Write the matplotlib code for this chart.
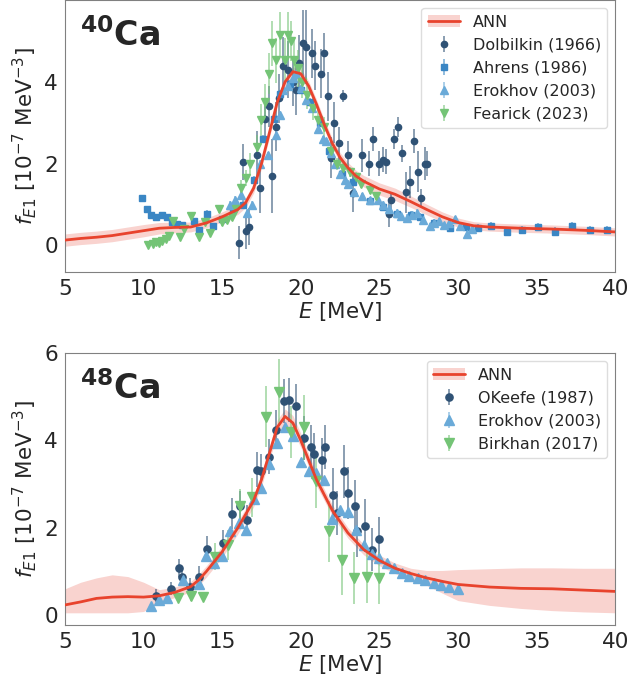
import numpy as np
import matplotlib
matplotlib.use('Agg')
import matplotlib.pyplot as plt
import seaborn as sns

sns.set_style('white')
plt.rcParams['font.family'] = ['DejaVu Sans']
plt.rcParams['axes.edgecolor'] = '#808080'
plt.rcParams['text.color'] = '#262626'
plt.rcParams['xtick.color'] = '#262626'
plt.rcParams['ytick.color'] = '#262626'

# ---------------- 40Ca ----------------
ann40_E = [5, 6, 7, 8, 9, 10, 11, 12, 13, 14, 15, 16, 16.5, 17, 17.5, 18, 18.5, 19, 19.5,
           20, 20.5, 21, 21.5, 22, 22.5, 23, 23.5, 24, 25, 26, 27, 28, 29, 30, 31, 32,
           34, 36, 38, 40]
ann40_f = [0.13, 0.17, 0.2, 0.24, 0.3, 0.36, 0.42, 0.44, 0.45, 0.55, 0.7, 0.88, 1.05, 1.4,
           2.0, 2.75, 3.5, 4.0, 4.25, 4.2, 3.9, 3.45, 2.95, 2.5, 2.15, 1.9, 1.7, 1.57, 1.38,
           1.25, 1.07, 0.88, 0.7, 0.56, 0.48, 0.45, 0.42, 0.4, 0.37, 0.33]
ann40_err = [0.15, 0.15, 0.15, 0.15, 0.15, 0.15, 0.14, 0.13, 0.12, 0.12, 0.12, 0.12, 0.12,
             0.12, 0.12, 0.12, 0.12, 0.12, 0.12, 0.12, 0.12, 0.12, 0.12, 0.12, 0.12, 0.13,
             0.14, 0.14, 0.15, 0.15, 0.14, 0.13, 0.12, 0.11, 0.1, 0.1, 0.1, 0.1, 0.1, 0.1]

dolb_E = [16.1, 16.3, 16.5, 16.7, 17.2, 17.4, 17.75, 18.0, 18.2, 18.4, 18.6, 18.9, 19.2,
          19.5, 19.7, 19.9, 20.15, 20.35, 20.7, 20.9, 21.3, 21.5, 21.75, 21.95, 22.1, 22.45,
          22.7, 23.0, 23.3, 23.9, 24.35, 24.6, 24.95, 25.2, 25.4, 25.6, 25.75, 25.95, 26.2,
          26.45, 26.7, 26.95, 27.2, 27.45, 27.65, 27.9, 28.0]
dolb_f = [0.07, 2.04, 0.35, 0.46, 2.2, 1.4, 3.1, 3.4, 1.7, 2.9, 3.6, 4.4, 4.3, 4.0, 3.8,
          4.45, 4.95, 4.85, 4.7, 4.4, 4.2, 4.7, 3.65, 2.15, 3.0, 2.5, 3.65, 2.2, 1.27, 2.2,
          2.0, 2.6, 2.0, 2.1, 2.05, 0.76, 1.1, 2.6, 2.9, 2.25, 1.3, 1.55, 2.55, 1.8, 1.17,
          2.0, 2.0]
dolb_err = [0.4, 0.45, 0.45, 0.45, 0.6, 0.6, 0.5, 0.5, 0.9, 0.6, 0.6, 0.7, 0.7, 0.6, 0.6,
            0.7, 0.8, 0.9, 0.6, 0.6, 0.6, 0.5, 0.6, 0.5, 0.5, 0.4, 0.15, 0.35, 0.45, 0.4,
            0.3, 0.3, 0.3, 0.3, 0.3, 0.3, 0.2, 0.25, 0.25, 0.2, 0.5, 0.4, 0.3, 0.5, 0.2,
            0.4, 0.3]

ahr_E = [9.9, 10.2, 10.45, 10.8, 11.15, 11.5, 11.8, 12.1, 12.45, 13.2, 13.55, 14.05, 14.4,
         15.0, 15.7, 16.3, 17.0, 17.6, 18.3, 18.7, 19.3, 20.0, 20.6, 21.2, 21.8, 22.6, 23.3,
         24.4, 25.2, 26.1, 27.0, 27.6, 28.5, 29.5, 30.5, 31.3, 32.1, 33.1, 34.1, 35.1, 36.2,
         37.25, 38.4, 39.5]
ahr_f = [1.15, 0.88, 0.74, 0.7, 0.74, 0.69, 0.57, 0.52, 0.5, 0.6, 0.38, 0.78, 0.47, 0.65,
         0.88, 1.0, 1.6, 2.6, 3.1, 3.7, 3.95, 3.8, 3.5, 3.0, 2.3, 1.75, 1.55, 1.08, 0.95,
         0.76, 0.75, 0.7, 0.55, 0.42, 0.45, 0.43, 0.47, 0.34, 0.37, 0.46, 0.34, 0.47, 0.37,
         0.37]
ahr_err = [0.08] * 15 + [0.1] * 29

ero40_E = [15.5, 15.8, 16.2, 16.6, 16.9, 17.4, 17.9, 18.4, 18.7, 18.9, 19.2, 19.5, 19.7,
           20.0, 20.35, 20.7, 21.1, 21.4, 21.6, 21.95, 22.2, 22.5, 22.8, 23.0, 23.4, 23.9,
           24.4, 24.9, 25.2, 25.6, 26.1, 26.4, 26.75, 27.1, 27.4, 27.8, 28.2, 28.5, 28.8,
           29.1, 29.4, 29.8, 30.1, 30.55, 30.9]
ero40_f = [1.0, 1.12, 1.24, 0.8, 1.0, 2.0, 2.2, 2.7, 3.2, 3.8, 3.9, 4.1, 4.2, 3.85, 3.55,
           3.35, 2.85, 2.6, 2.55, 2.25, 2.0, 1.75, 1.6, 1.5, 1.3, 1.2, 1.1, 1.1, 1.0, 0.9,
           0.8, 0.72, 0.68, 0.75, 0.8, 0.62, 0.47, 0.55, 0.6, 0.5, 0.55, 0.65, 0.47, 0.27,
           0.4]
ero40_err = [0.08] * 45

fear_E = [10.3, 10.6, 10.8, 11.0, 11.2, 11.4, 11.6, 11.9, 12.3, 12.6, 13.0, 13.5, 13.9,
          14.2, 14.8, 15.0, 15.3, 15.6, 15.9, 16.2, 16.5, 16.8, 17.2, 17.5, 17.75, 18.0,
          18.2, 18.4, 18.7, 19.0, 19.2, 19.4, 19.6, 19.8, 20.1, 20.4, 20.8, 21.1, 21.45,
          21.95, 22.3, 22.7, 23.1, 23.5, 23.8, 24.4, 24.8]
fear_f = [0.02, 0.04, 0.08, 0.06, 0.1, 0.15, 0.22, 0.59, 0.2, 0.4, 0.73, 0.2, 0.58, 0.3,
          0.9, 0.58, 0.62, 0.7, 0.9, 1.4, 1.65, 2.0, 2.4, 3.07, 3.5, 4.2, 4.95, 4.53, 5.15,
          4.53, 5.15, 5.0, 4.53, 4.33, 4.0, 3.68, 3.36, 3.07, 2.9, 2.3, 2.0, 1.9, 1.8, 1.68,
          1.5, 1.35, 1.2]
fear_err = [0.05, 0.05, 0.05, 0.05, 0.05, 0.05, 0.06, 0.06, 0.06, 0.06, 0.08, 0.08, 0.08,
            0.08, 0.1, 0.1, 0.1, 0.1, 0.12, 0.2, 0.2, 0.25, 0.3, 0.4, 0.45, 0.5, 0.55, 0.55,
            0.55, 0.55, 0.55, 0.5, 0.5, 0.45, 0.4, 0.35, 0.3, 0.3, 0.25, 0.2, 0.15, 0.15,
            0.12, 0.12, 0.1, 0.1, 0.1]

# ---------------- 48Ca ----------------
ann48_E = [5, 6, 7, 8, 9, 10, 11, 12, 13, 13.5, 14, 15, 16, 17, 17.5, 18, 18.5, 19, 19.5,
           20, 20.5, 21, 21.5, 22, 23, 24, 25, 26, 27, 28, 29, 30, 32, 34, 36, 38, 40]
ann48_f = [0.23, 0.3, 0.38, 0.41, 0.42, 0.41, 0.44, 0.52, 0.65, 0.8, 1.0, 1.45, 2.0, 2.62,
           3.1, 3.7, 4.3, 4.55, 4.4, 4.0, 3.55, 3.1, 2.75, 2.4, 1.88, 1.5, 1.25, 1.07, 0.95,
           0.85, 0.77, 0.7, 0.64, 0.61, 0.6, 0.57, 0.54]
ann48_lo = [0.05, 0.05, 0.05, 0.05, 0.05, 0.08, 0.3, 0.4, 0.53, 0.67, 0.87, 1.32, 1.86,
            2.48, 2.95, 3.55, 4.13, 4.38, 4.23, 3.84, 3.4, 2.96, 2.62, 2.27, 1.76, 1.38,
            1.13, 0.95, 0.83, 0.68, 0.5, 0.33, 0.22, 0.15, 0.1, 0.07, 0.05]
ann48_hi = [0.6, 0.75, 0.85, 0.92, 0.88, 0.75, 0.58, 0.64, 0.77, 0.93, 1.13, 1.58, 2.14,
            2.76, 3.25, 3.85, 4.47, 4.72, 4.57, 4.16, 3.7, 3.24, 2.88, 2.53, 2.0, 1.62,
            1.37, 1.19, 1.07, 1.02, 1.02, 1.04, 1.06, 1.08, 1.08, 1.07, 1.07]

okee_E = [10.8, 11.75, 12.27, 12.45, 12.97, 13.54, 14.03, 15.05, 15.6, 16.15, 16.6, 17.2,
          17.45, 17.96, 18.45, 18.96, 19.25, 19.68, 20.19, 20.66, 20.85, 21.36, 21.57,
          22.04, 22.3, 22.74, 23.0, 23.42, 23.6, 24.08, 24.5, 25.0]
okee_f = [0.44, 0.6, 1.08, 0.87, 0.65, 0.87, 1.52, 1.65, 2.32, 2.49, 2.18, 3.33, 3.3, 3.63,
          4.25, 4.9, 4.92, 4.79, 4.05, 3.85, 3.68, 3.56, 3.85, 2.76, 2.34, 3.29, 2.79, 2.5,
          1.93, 2.05, 1.5, 1.74]
okee_err = [0.15, 0.15, 0.2, 0.2, 0.2, 0.25, 0.3, 0.3, 0.35, 0.35, 0.35, 0.4, 0.4, 0.4,
            0.45, 0.5, 0.5, 0.5, 0.5, 0.5, 0.5, 0.5, 0.5, 0.6, 0.5, 0.6, 0.6, 0.6, 0.6,
            0.6, 0.5, 0.5]

ero48_E = [10.46, 10.95, 11.5, 12.5, 13.5, 14.0, 14.5, 15.0, 15.5, 16.05, 16.5, 17.0, 17.5,
           18.0, 18.5, 19.0, 19.5, 20.0, 20.5, 21.0, 21.5, 22.0, 22.5, 23.0, 23.5, 24.0,
           24.5, 25.0, 25.5, 25.95, 26.45, 26.9, 27.45, 27.9, 28.5, 28.95, 29.45, 30.0]
ero48_f = [0.2, 0.35, 0.4, 0.8, 0.7, 1.35, 1.2, 1.35, 1.92, 2.1, 1.95, 2.65, 2.9, 3.45,
           3.95, 4.3, 4.1, 3.5, 3.3, 3.25, 3.1, 2.2, 2.4, 2.35, 1.95, 1.6, 1.4, 1.3, 1.2,
           1.08, 0.97, 0.89, 0.84, 0.8, 0.74, 0.68, 0.65, 0.6]
ero48_err = [0.05] * 38

birk_E = [12.22, 13.0, 13.8, 14.55, 15.4, 16.15, 16.9, 17.8, 18.6, 19.4, 20.2, 20.95, 21.78,
          22.6, 23.4, 24.2, 24.97]
birk_f = [0.39, 0.43, 0.42, 1.34, 1.6, 2.49, 2.7, 4.54, 5.11, 4.2, 4.3, 3.06, 1.92, 1.26,
          0.85, 0.87, 0.85]
birk_err = [0.1, 0.1, 0.1, 0.3, 0.35, 0.4, 0.45, 0.7, 0.75, 0.6, 0.75, 0.6, 0.7, 0.8, 0.6,
            0.6, 0.6]

red = '#e8432d'
band = '#f9d3cf'
c_dark = '#2f5275'
c_mid = '#3a86c4'
c_light = '#6aaad8'
c_green = '#74c476'

fig = plt.figure(figsize=(6.39, 6.83), dpi=100)
ax1 = fig.add_axes([0.1017, 0.6018, 0.861, 0.398])
ax2 = fig.add_axes([0.1017, 0.0849, 0.861, 0.398])


def ann_curve(ax, E, f, lo, hi):
    fb = ax.fill_between(E, lo, hi, color=band, lw=0, zorder=1)
    ln, = ax.plot(E, f, color=red, lw=2, zorder=5)
    return (fb, ln)


def data(ax, E, f, err, color, marker, ms, label, ealpha=0.6):
    eb = ax.errorbar(E, f, yerr=err, fmt=marker, color=color, ms=ms, elinewidth=1.3,
                     capsize=0, label=label, zorder=3)
    for l in eb[2]:
        l.set_alpha(ealpha)
    return eb


a40 = np.array(ann40_f)
e40 = np.array(ann40_err)
h_ann1 = ann_curve(ax1, ann40_E, a40, a40 - e40, a40 + e40)
h1 = data(ax1, dolb_E, dolb_f, dolb_err, c_dark, 'o', 4.5, 'Dolbilkin (1966)')
h2 = data(ax1, ahr_E, ahr_f, ahr_err, c_mid, 's', 4.3, 'Ahrens (1986)')
h3 = data(ax1, ero40_E, ero40_f, ero40_err, c_light, '^', 6, 'Erokhov (2003)')
h4 = data(ax1, fear_E, fear_f, fear_err, c_green, 'v', 6, 'Fearick (2023)')
ax1.legend([h_ann1, h1, h2, h3, h4],
           ['ANN', 'Dolbilkin (1966)', 'Ahrens (1986)', 'Erokhov (2003)', 'Fearick (2023)'],
           loc='upper right', fontsize=11.5, framealpha=1, edgecolor='#dddddd')
ax1.set_xlim(5, 40)
ax1.set_ylim(-0.65, 6.0)
ax1.set_yticks([0, 2, 4])
ax1.text(0.028, 0.83, r'$^{\mathbf{40}}$Ca', transform=ax1.transAxes, fontsize=24,
         fontweight='bold')

h_ann2 = ann_curve(ax2, ann48_E, ann48_f, ann48_lo, ann48_hi)
g1 = data(ax2, okee_E, okee_f, okee_err, c_dark, 'o', 5.2, 'OKeefe (1987)')
g2 = data(ax2, ero48_E, ero48_f, ero48_err, c_light, '^', 7, 'Erokhov (2003)')
g3 = data(ax2, birk_E, birk_f, birk_err, c_green, 'v', 7, 'Birkhan (2017)')
ax2.legend([h_ann2, g1, g2, g3],
           ['ANN', 'OKeefe (1987)', 'Erokhov (2003)', 'Birkhan (2017)'],
           loc='upper right', fontsize=11.5, framealpha=1, edgecolor='#dddddd')
ax2.set_xlim(5, 40)
ax2.set_ylim(-0.23, 6.0)
ax2.set_yticks([0, 2, 4, 6])
ax2.text(0.028, 0.83, r'$^{\mathbf{48}}$Ca', transform=ax2.transAxes, fontsize=24,
         fontweight='bold')

for ax in (ax1, ax2):
    ax.set_xticks([5, 10, 15, 20, 25, 30, 35, 40])
    ax.tick_params(labelsize=15.5, length=0, pad=5)
    ax.set_xlabel(r'$E$ [MeV]', fontsize=15.5, labelpad=1)
    ax.set_ylabel(r'$f_{E1}$ [$10^{-7}$ MeV$^{-3}$]', fontsize=15.5, labelpad=4)
    for s in ax.spines.values():
        s.set_color('#808080')

plt.savefig('out.png', dpi=100)
